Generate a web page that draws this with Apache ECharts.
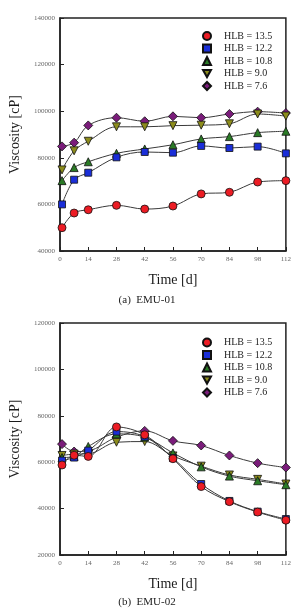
<!DOCTYPE html>
<html lang="en">
<head>
    <meta charset="UTF-8">
    <title>Viscosity vs time</title>
    <script src="https://cdn.jsdelivr.net/npm/echarts@6/dist/echarts.min.js"></script>
    <style>
        html, body { margin: 0; padding: 0; background: #fff; }
    </style>
</head>
<body>
<div id="main" style="width: 294px;height:615px;"></div>
<script>
    // storage time [d]
    var days = [1, 7, 14, 28, 42, 56, 70, 84, 98, 112];
    var hlbNames = ['HLB = 13.5', 'HLB = 12.2', 'HLB = 10.8', 'HLB = 9.0', 'HLB = 7.6'];
    var xTicks = [0, 14, 28, 42, 56, 70, 84, 98, 112];

    // (a) EMU-01 viscosity [cP]
    var emu01_135 = [50000, 56300, 57700, 59600, 58000, 59300, 64500, 65200, 69600, 70200];
    var emu01_122 = [60000, 70600, 73600, 80200, 82500, 82200, 85100, 84200, 84800, 81900];
    var emu01_108 = [70200, 75800, 78300, 81900, 83800, 85600, 88100, 89100, 90800, 91400];
    var emu01_90  = [74800, 83000, 87100, 93300, 93300, 93800, 94000, 94600, 98800, 97900];
    var emu01_76  = [84900, 86500, 93900, 97200, 95700, 97800, 97200, 98800, 99800, 99200];

    // (b) EMU-02 viscosity [cP]
    var emu02_135 = [58800, 63000, 62500, 75200, 71800, 61500, 49500, 43000, 38500, 35000];
    var emu02_122 = [60700, 62000, 65000, 73200, 71000, 61800, 50600, 43300, 38700, 35500];
    var emu02_108 = [62000, 62500, 66800, 72200, 70800, 64000, 58000, 54000, 52000, 50300];
    var emu02_90  = [62900, 63500, 63600, 68600, 68900, 62700, 58300, 54500, 52600, 50600];
    var emu02_76  = [67800, 64600, 64900, 70800, 73500, 69200, 67200, 62900, 59600, 57700];

    var colors = ['#ec1c24', '#1a2ed8', '#2a7a26', '#8c8c1c', '#7a1c7a'];
    var symbols = ['circle', 'rect', 'triangle', 'path://M0,0L10,0L5,9Z', 'path://M5,0L10,5L5,10L0,5Z'];
    var sizes = [8, 7, 8, 8, 9];
    var serif = '"Liberation Serif", "DejaVu Serif", serif';

    function pairs(vals) {
        var out = [];
        for (var i = 0; i < days.length; i++) {
            out.push([days[i], vals[i]]);
        }
        return out;
    }

    function makeSeries(list, idx) {
        var arr = [];
        for (var i = 0; i < list.length; i++) {
            arr.push({
                name: hlbNames[i],
                type: 'line',
                xAxisIndex: idx,
                yAxisIndex: idx,
                data: pairs(list[i]),
                smooth: 0.35,
                symbol: symbols[i],
                symbolSize: sizes[i],
                showAllSymbol: true,
                lineStyle: { color: '#3a3a3a', width: 1 },
                itemStyle: { color: colors[i], borderColor: '#111', borderWidth: 0.8 },
                emphasis: { disabled: true },
                z: 10 - i
            });
        }
        return arr;
    }

    function xAxisOf(idx) {
        return {
            type: 'value', gridIndex: idx, min: 0, max: 112, interval: 14,
            name: 'Time [d]', nameLocation: 'middle', nameGap: 22,
            nameTextStyle: { fontFamily: serif, fontSize: 14, color: '#1a1a1a' },
            axisLine: { lineStyle: { color: '#222', width: 1.5 } },
            axisTick: { inside: true, length: 4, lineStyle: { color: '#222' } },
            axisLabel: { fontFamily: serif, fontSize: 7, color: '#666', margin: 5,
                formatter: function (v) { return xTicks.indexOf(v) >= 0 ? String(v) : ''; } },
            splitLine: { show: false }
        };
    }

    function yAxisOf(idx, min, max) {
        return {
            type: 'value', gridIndex: idx, min: min, max: max, interval: 20000,
            name: 'Viscosity [cP]', nameLocation: 'middle', nameGap: 38,
            nameTextStyle: { fontFamily: serif, fontSize: 14, color: '#1a1a1a' },
            axisLine: { lineStyle: { color: '#222', width: 1.5 } },
            axisTick: { inside: true, length: 4, lineStyle: { color: '#222' } },
            axisLabel: { fontFamily: serif, fontSize: 7, color: '#666', margin: 5,
                formatter: function (v) { return String(v); } },
            splitLine: { show: false }
        };
    }

    function legendOf(top) {
        var items = [];
        for (var i = 0; i < hlbNames.length; i++) {
            items.push({ name: hlbNames[i], icon: symbols[i] });
        }
        return {
            data: items, orient: 'vertical', left: 202, top: top, padding: 0,
            itemWidth: 8, itemHeight: 8, itemGap: 2.5,
            textStyle: { fontFamily: serif, fontSize: 10, color: '#222', lineHeight: 10,
                padding: [0, 0, 0, 8] },
            selectedMode: false
        };
    }

    var myChart = echarts.init(document.getElementById('main'));
    myChart.setOption({
        animation: false,
        grid: [
            { left: 57, top: 18, width: 229, height: 233, show: true, borderColor: '#222', borderWidth: 1.5 },
            { left: 57, top: 323, width: 229, height: 232, show: true, borderColor: '#222', borderWidth: 1.5 }
        ],
        xAxis: [xAxisOf(0), xAxisOf(1)],
        yAxis: [yAxisOf(0, 40000, 140000), yAxisOf(1, 20000, 120000)],
        legend: [legendOf(31), legendOf(337.5)],
        series: makeSeries([emu01_135, emu01_122, emu01_108, emu01_90, emu01_76], 0)
            .concat(makeSeries([emu02_135, emu02_122, emu02_108, emu02_90, emu02_76], 1)),
        graphic: [
            { type: 'text', left: 'center', top: 295,
              style: { text: '(a)  EMU-01', font: '11px ' + serif, fill: '#222' } },
            { type: 'text', left: 'center', top: 597,
              style: { text: '(b)  EMU-02', font: '11px ' + serif, fill: '#222' } }
        ]
    });
</script>
</body>
</html>
